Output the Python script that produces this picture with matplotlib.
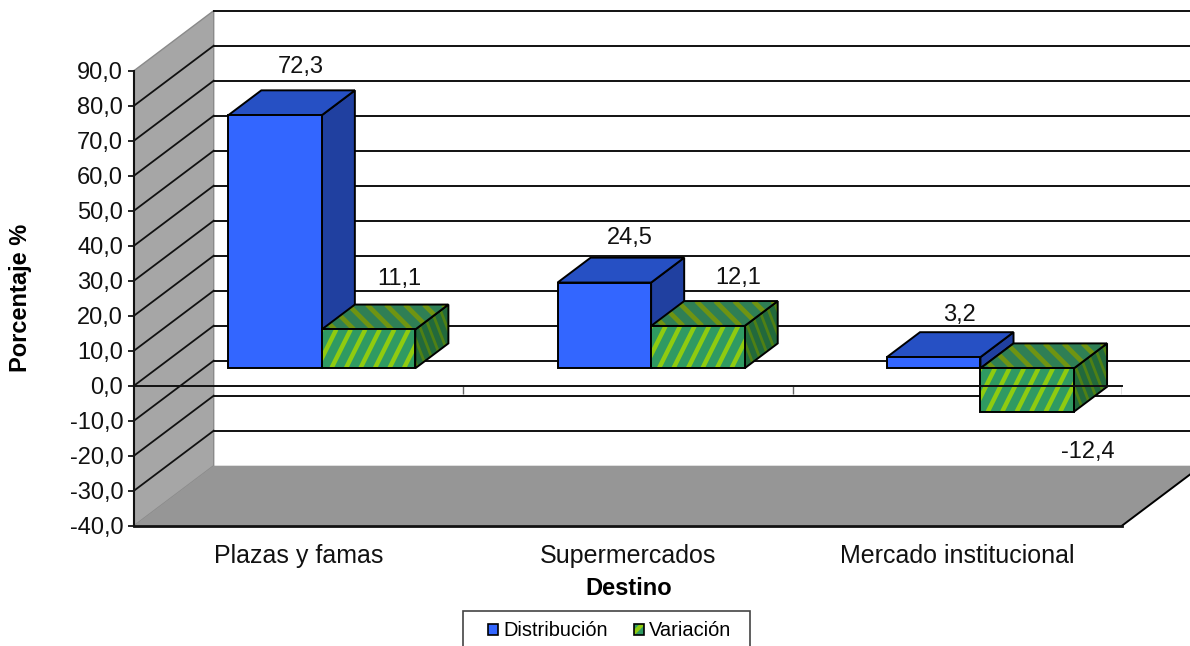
import matplotlib
matplotlib.use('Agg')
import matplotlib.pyplot as plt
from matplotlib.collections import LineCollection
from matplotlib.legend_handler import HandlerTuple
from matplotlib.patches import Polygon, Patch, Rectangle

plt.rcParams['font.family'] = ['Liberation Sans', 'DejaVu Sans']
plt.rcParams['hatch.linewidth'] = 3.0

categories = ['Plazas y famas', 'Supermercados', 'Mercado institucional']
distribucion = [72.3, 24.5, 3.2]
variacion = [11.1, 12.1, -12.4]
y_ticks = list(range(-40, 100, 10))
xlabel = 'Destino'
ylabel = 'Porcentaje %'

# pixel size of the figure and of the front plane of the 3d box
W, H = 1190, 646
LEFT, RIGHT, TOP, BOTTOM = 134, 1122, 70.7, 525.7
PX_X = (RIGHT - LEFT) / 3
PX_Y = (BOTTOM - TOP) / 130
# full depth of the box, in data units
DX = 79.7 / PX_X
DY = 60 / PX_Y
GAP = 0.216
BAR_W = (1 - 2 * GAP) / 2
D0, D1 = 0.29, 0.705

fig = plt.figure(figsize=(W / 100, H / 100), dpi=100)
ax = fig.add_axes([LEFT / W, 1 - BOTTOM / H, (RIGHT - LEFT) / W, (BOTTOM - TOP) / H])
ax.set_xlim(0, 3)
ax.set_ylim(-40, 90)
ax.patch.set_visible(False)


def pt(x, v, d=0.0):
    return (x + d * DX, v + d * DY)


def poly(points, color, z, edge='black', lw=1.4):
    p = Polygon(points, closed=True, facecolor=color, edgecolor=edge, lw=lw, zorder=z, clip_on=False)
    ax.add_patch(p)
    return p


def stripes(points, slope, period, color, lw, z):
    # slanted texture lines, worked out in pixels and clipped to the face
    base = Polygon(points, closed=True, facecolor='none', edgecolor='none', transform=ax.transData)
    ax.add_patch(base)
    xs = [p[0] * PX_X for p in points]
    ys = [p[1] * PX_Y for p in points]
    lo_y, hi_y = min(ys), max(ys)
    span = (hi_y - lo_y) / abs(slope)
    x0 = min(xs) - span - period
    segs = []
    while x0 < max(xs) + span + period:
        x1 = x0 + (hi_y - lo_y) / slope
        segs.append([(x0 / PX_X, lo_y / PX_Y), (x1 / PX_X, hi_y / PX_Y)])
        x0 += period
    lc = LineCollection(segs, colors=color, linewidths=lw, zorder=z)
    ax.add_collection(lc)
    lc.set_clip_path(base)


def box(x, val, z, front, top, side, texture=None):
    lo, hi = min(0, val), max(0, val)
    x1 = x + BAR_W
    front_pts = [pt(x, lo, D0), pt(x1, lo, D0), pt(x1, hi, D0), pt(x, hi, D0)]
    top_pts = [pt(x, hi, D0), pt(x1, hi, D0), pt(x1, hi, D1), pt(x, hi, D1)]
    side_pts = [pt(x1, lo, D0), pt(x1, lo, D1), pt(x1, hi, D1), pt(x1, hi, D0)]
    for pts, col, dz, k in [(side_pts, side, 0, 2), (top_pts, top, 0.1, 1), (front_pts, front, 0.2, 0)]:
        if texture:
            poly(pts, col, z + dz, edge='none', lw=0)
            stripes(pts, texture[k][0], texture[k][1], texture[k][2], texture[k][3], z + dz + 0.01)
            poly(pts, 'none', z + dz + 0.02)
        else:
            poly(pts, col, z + dz)


# walls and floor, the right edge runs off the picture
x_end = (W - LEFT) / (RIGHT - LEFT) * 3 + 0.2
poly([pt(0, -40), pt(0, 90), pt(0, 90, 1), pt(0, -40, 1)], '#a6a6a6', 1, edge='#8a8a8a', lw=1.0)
poly([pt(0, -40), pt(3, -40), pt(3, -40, 1), pt(0, -40, 1)], '#969696', 1.1, edge='none', lw=0)
ax.plot(*zip(pt(3, -40), pt(3, -40, 1)), color='black', lw=1.4, zorder=1.2, clip_on=False)

for v in y_ticks:
    back = pt(0, v, 1)
    if v > -40:
        if v < 90:
            ax.plot(*zip(pt(0, v), back), color='#111111', lw=1.3, zorder=1.5, clip_on=False)
        ax.plot([back[0], x_end], [back[1], back[1]], color='#111111', lw=1.4, zorder=1.5, clip_on=False)

# slope, period in px, colour, line width for front, top and side faces
green_texture = [(2.0, 14.5, '#8fcb10', 3.2), (-1.0, 19, '#6f9412', 3.4), (-2.6, 9, '#4f8014', 2.0)]
for i in range(3):
    x = i + GAP
    box(x, distribucion[i], 3 + i, '#3366ff', '#2650c4', '#2040a0')
    box(x + BAR_W, variacion[i], 3.5 + i, '#2f9a62', '#2f7f55', '#22693c', texture=green_texture)

# zero line with its category ticks
ax.plot([0, 3], [0, 0], color='#111111', lw=1.4, zorder=8, clip_on=False)
ax.vlines([1, 2, 3], -2.4, 0, color='#666666', lw=1.0, zorder=2)

# data labels, offset by hand from the back top of each bar (category units, value units)
dist_off = [(-0.023, 6.6), (-0.023, 5.5), (-0.023, 4.9)]
var_off = [(-0.006, 7.4), (0.021, 6.6), (0.083, -18.7)]
for i in range(3):
    x = i + GAP + BAR_W / 2
    tx, ty = pt(x, distribucion[i], D1)
    ax.text(tx + dist_off[i][0], ty + dist_off[i][1], f'{distribucion[i]:.1f}'.replace('.', ','),
            ha='center', va='center', fontsize=17, zorder=9, color='#111111', clip_on=False)
    tx, ty = pt(x + BAR_W, variacion[i], D1)
    ax.text(tx + var_off[i][0], ty + var_off[i][1], f'{variacion[i]:.1f}'.replace('.', ','),
            ha='center', va='center', fontsize=17, zorder=9, color='#111111', clip_on=False)

for s in ['top', 'right']:
    ax.spines[s].set_visible(False)
ax.spines['left'].set_linewidth(1.5)
ax.spines['bottom'].set_linewidth(2.0)
for s in ['left', 'bottom']:
    ax.spines[s].set_color('#111111')
    ax.spines[s].set_zorder(7)

ax.set_yticks(y_ticks)
ax.set_yticklabels([f'{v:.1f}'.replace('.', ',') for v in y_ticks], fontsize=17, color='#111111')
ax.tick_params(axis='y', length=4, width=1.2, pad=3.8)
ax.set_xticks([0.5, 1.5, 2.5])
ax.set_xticklabels(categories, fontsize=18, color='#111111')
ax.tick_params(axis='x', length=0, pad=13.5)

ax.set_xlabel(xlabel, fontsize=17, fontweight='bold', va='center')
ax.xaxis.set_label_coords(0.501, -0.138)
ax.set_ylabel(ylabel, fontsize=17, fontweight='bold', va='center')
ax.yaxis.set_label_coords((21 - LEFT) / (RIGHT - LEFT), 0.5)

# legend frame runs past the bottom of the picture, so it is drawn on its own
fig.add_artist(Rectangle((462.7 / W, -20 / H), 287.3 / W, (H - 610.7 + 20) / H, transform=fig.transFigure,
                         facecolor='white', edgecolor='#444444', lw=1.2))
h_dist = Patch(facecolor='#3366ff', edgecolor='black', linewidth=1.2)
h_var = (Patch(facecolor='#2f9a62', edgecolor='#8fcb10', hatch='/', linewidth=0),
         Patch(facecolor='none', edgecolor='black', linewidth=1.2))
fig.legend([h_dist, h_var], ['Distribución', 'Variación'],
           handler_map={tuple: HandlerTuple(ndivide=1, pad=0)},
           loc='center', bbox_to_anchor=(609.5 / W, 1 - 631 / H),
           ncol=2, fontsize=14.4, frameon=False,
           handlelength=0.5, handleheight=0.5, handletextpad=0.25, columnspacing=1.3,
           borderpad=0, borderaxespad=0)

fig.savefig('out.png', dpi=100)
